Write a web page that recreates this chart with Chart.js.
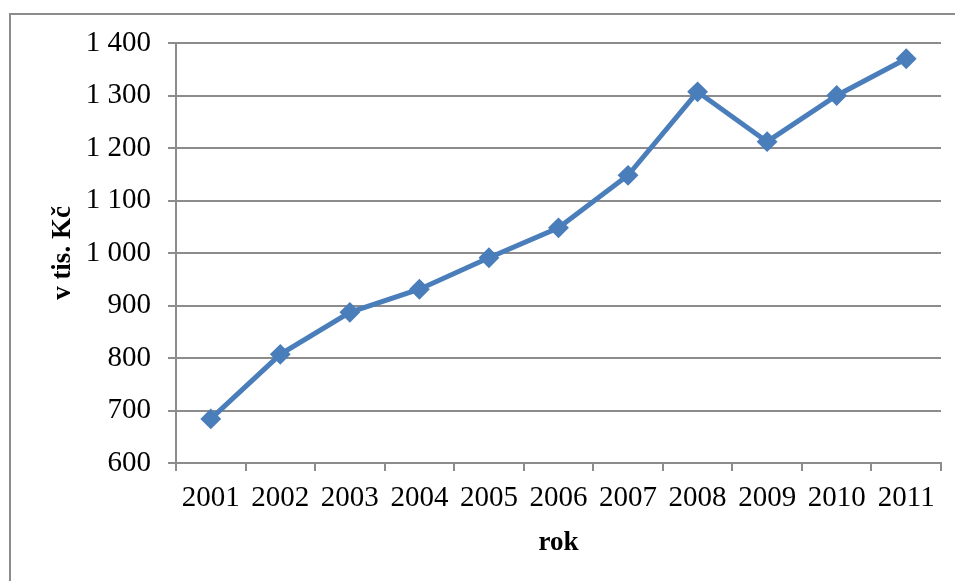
<!DOCTYPE html>
<html>
<head>
<meta charset="utf-8">
<script src="https://cdn.jsdelivr.net/npm/chart.js@4"></script>
<style>
  html, body { margin: 0; padding: 0; background: #fff; overflow: hidden; }
  #frame {
    position: absolute; left: 9px; top: 13px; width: 1000px; height: 700px;
    border-left: 2px solid #8c8c8c; border-top: 2px solid #8c8c8c;
  }
  #wrap { position: absolute; left: 0; top: 0; width: 955px; height: 581px; }
</style>
</head>
<body>
<div id="frame"></div>
<div id="wrap"><canvas id="lineChart" width="955" height="581"></canvas></div>
<script>
// hodnoty v tis. Kč podle roku
const years = ["2001", "2002", "2003", "2004", "2005", "2006", "2007", "2008", "2009", "2010", "2011"];
const values = [684, 807, 887, 931, 991, 1048, 1148, 1307, 1212, 1300, 1370];
const yMin = 600;
const yMax = 1400;
const yStep = 100;

const serif = "'Liberation Serif', 'Times New Roman', serif";
const gridGray = "#8c8c8c";

const fmt = (v) => {
  // mezera jako oddělovač tisíců
  return String(v).replace(/\B(?=(\d{3})+(?!\d))/g, " ");
};

var ctx = document.getElementById("lineChart").getContext("2d");
var lineChart = new Chart(ctx, {
  type: "line",
  data: {
    labels: years,
    datasets: [
      {
        data: values,
        borderColor: "#4a7ebb",
        backgroundColor: "#4a7ebb",
        borderWidth: 5,
        pointStyle: "rectRot",
        pointRadius: 9,
        pointBorderWidth: 2,
        pointBackgroundColor: "#4a7ebb",
        pointBorderColor: "#4a7ebb",
        tension: 0,
      },
    ],
  },
  options: {
    responsive: false,
    animation: false,
    layout: { padding: { left: 10, top: 43, right: 14, bottom: 0 } },
    plugins: {
      legend: { display: false },
      tooltip: { enabled: false },
    },
    scales: {
      x: {
        offset: true,
        grid: {
          offset: true,
          drawOnChartArea: false,
          drawTicks: true,
          tickLength: 8,
          color: gridGray,
          lineWidth: 2,
        },
        border: { color: gridGray, width: 2 },
        ticks: {
          color: "#000",
          padding: 10,
          maxRotation: 0,
          font: { family: serif, size: 29 },
        },
        title: {
          display: true,
          text: "rok",
          color: "#000",
          padding: { top: 6, bottom: 22 },
          font: { family: serif, size: 27, weight: "bold" },
        },
        afterFit: (s) => { s.height = 581 - 463; },
      },
      y: {
        min: yMin,
        max: yMax,
        grid: {
          color: gridGray,
          lineWidth: 2,
          tickLength: 8,
        },
        border: { color: gridGray, width: 2 },
        ticks: {
          stepSize: yStep,
          color: "#000",
          padding: 17,
          font: { family: serif, size: 29 },
          callback: (v) => fmt(v),
        },
        title: {
          display: true,
          text: "v tis. Kč",
          color: "#000",
          padding: { top: 37, bottom: 0 },
          font: { family: serif, size: 27, weight: "bold" },
        },
        afterFit: (s) => { s.width = 176 - 10; },
      },
    },
  },
});
</script>
</body>
</html>
